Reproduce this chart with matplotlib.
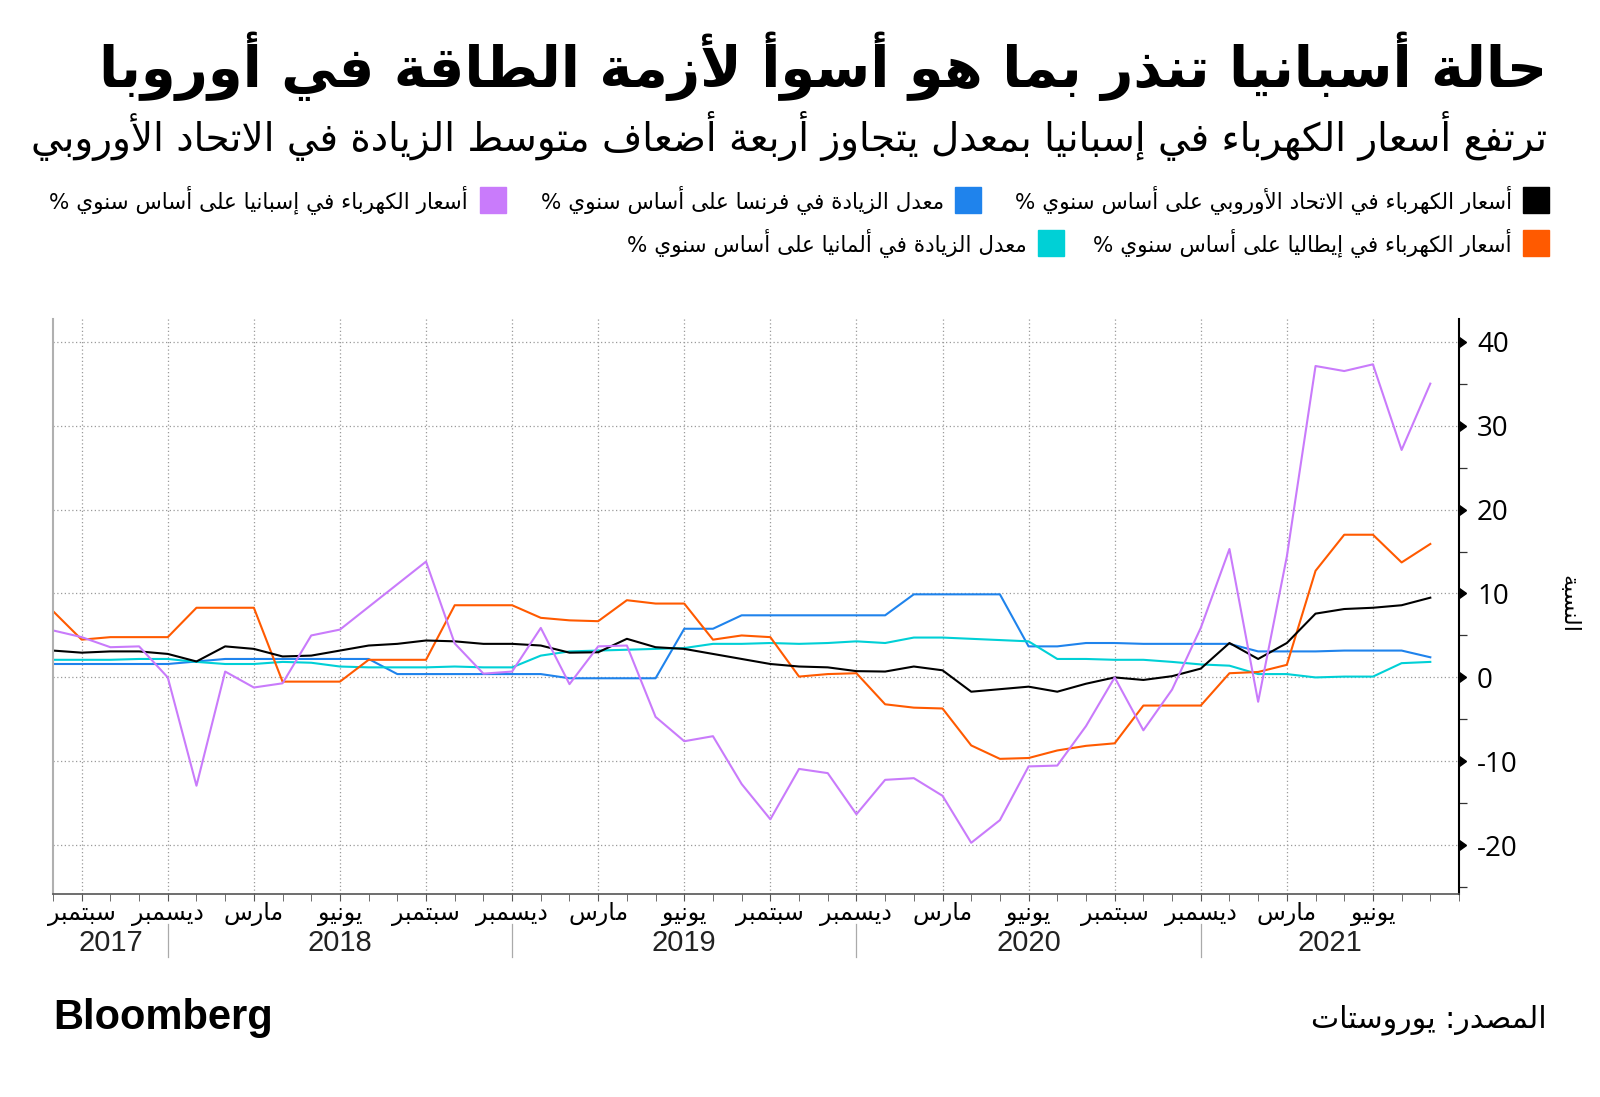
import numpy as np
import matplotlib
matplotlib.use("Agg")
import matplotlib.pyplot as plt
from matplotlib.patches import Rectangle
from matplotlib.lines import Line2D

##########################################################################
######  Data (monthly Aug 2017 -> Aug 2021)  #####
##########################################################################

eu = [3.2, 2.95, 3.1, 3.1, 2.8, 1.9, 3.7, 3.4, 2.5, 2.6, 3.2, 3.8, 4.0, 4.4, 4.3, 4.0, 4.0,
      3.8, 2.95, 3.0, 4.6, 3.6, 3.4, 2.8, 2.2, 1.6, 1.3, 1.2, 0.75, 0.7, 1.3, 0.85,
      -1.7, -1.4, -1.1, -1.7, -0.75, 0.0, -0.3, 0.15, 1.05, 4.1, 2.2, 4.1, 7.6, 8.15, 8.3, 8.6, 9.5]
italy = [7.9, 4.5, 4.8, 4.8, 4.8, 8.3, 8.3, 8.3, -0.5, -0.5, -0.5, 2.1, 2.1, 2.1, 8.6, 8.6, 8.6,
         7.1, 6.8, 6.7, 9.2, 8.8, 8.8, 4.5, 5.0, 4.8, 0.1, 0.4, 0.5, -3.2, -3.6, -3.7,
         -8.1, -9.7, -9.6, -8.7, -8.15, -7.85, -3.35, -3.35, -3.35, 0.5, 0.65, 1.5, 12.7, 17.0, 17.0, 13.7, 15.9]
spain = [5.6, 4.8, 3.6, 3.7, 0.0, -12.9, 0.7, -1.2, -0.7, 5.0, 5.7, 8.4, 11.1, 13.8, 4.05, 0.45, 0.7,
         5.9, -0.8, 3.7, 3.8, -4.7, -7.6, -7.0, -12.7, -16.9, -10.9, -11.4, -16.3, -12.2, -12.0, -14.1,
         -19.7, -17.0, -10.6, -10.5, -5.8, 0.0, -6.3, -1.45, 5.9, 15.3, -2.9, 14.4, 37.1, 36.5, 37.3, 27.1, 35.0]
germany = [2.1, 2.1, 2.1, 2.2, 2.2, 1.85, 1.6, 1.6, 1.85, 1.75, 1.3, 1.2, 1.2, 1.2, 1.3, 1.2, 1.2,
           2.6, 3.1, 3.2, 3.3, 3.4, 3.5, 4.0, 4.0, 4.1, 4.0, 4.1, 4.3, 4.1, 4.75, 4.75,
           4.6, 4.45, 4.3, 2.2, 2.2, 2.1, 2.1, 1.85, 1.55, 1.4, 0.4, 0.4, 0.0, 0.1, 0.1, 1.7, 1.85]
france = [1.6, 1.6, 1.6, 1.6, 1.6, 1.9, 2.2, 2.2, 2.2, 2.2, 2.2, 2.2, 0.4, 0.4, 0.4, 0.4, 0.4,
          0.4, -0.1, -0.1, -0.1, -0.1, 5.8, 5.8, 7.4, 7.4, 7.4, 7.4, 7.4, 7.4, 9.9, 9.9,
          9.9, 9.9, 3.7, 3.7, 4.1, 4.1, 4.0, 4.0, 4.0, 4.0, 3.1, 3.1, 3.1, 3.2, 3.2, 3.2, 2.4]

month_names = ["سبتمبر", "ديسمبر", "مارس", "يونيو"]
years = ["2017", "2018", "2019", "2020", "2021"]
year_centers = [2, 10, 22, 34, 44.5]      # month index (0 = Aug 2017)
year_breaks = [4, 16, 28, 40]

title = "حالة أسبانيا تنذر بما هو أسوأ لأزمة الطاقة في أوروبا"
subtitle = "ترتفع أسعار الكهرباء في إسبانيا بمعدل يتجاوز أربعة أضعاف متوسط الزيادة في الاتحاد الأوروبي"
labels = {
    "eu": "أسعار الكهرباء في الاتحاد الأوروبي على أساس سنوي %",
    "france": "معدل الزيادة في فرنسا على أساس سنوي %",
    "spain": "أسعار الكهرباء في إسبانيا على أساس سنوي %",
    "italy": "أسعار الكهرباء في إيطاليا على أساس سنوي %",
    "germany": "معدل الزيادة في ألمانيا على أساس سنوي %",
}
ylabel = "النسبة"
source = "المصدر: يوروستات"

colors = {"eu": "#000000", "france": "#1f83ec", "spain": "#c97bfb",
          "italy": "#ff5a00", "germany": "#00d0d6"}

##########################################################################
######  Small Arabic shaper (no bidi lib available)  #####
##########################################################################

RIGHT = {"آ": 0xFE81, "أ": 0xFE83, "ؤ": 0xFE85, "إ": 0xFE87, "ا": 0xFE8D, "ة": 0xFE93,
         "د": 0xFEA9, "ذ": 0xFEAB, "ر": 0xFEAD, "ز": 0xFEAF, "و": 0xFEED, "ى": 0xFEEF,
         "لآ": 0xFEF5, "لأ": 0xFEF7, "لإ": 0xFEF9, "لا": 0xFEFB}
DUAL = {"ئ": 0xFE89, "ب": 0xFE8F, "ت": 0xFE95, "ث": 0xFE99, "ج": 0xFE9D, "ح": 0xFEA1,
        "خ": 0xFEA5, "س": 0xFEB1, "ش": 0xFEB5, "ص": 0xFEB9, "ض": 0xFEBD, "ط": 0xFEC1,
        "ظ": 0xFEC5, "ع": 0xFEC9, "غ": 0xFECD, "ف": 0xFED1, "ق": 0xFED5, "ك": 0xFED9,
        "ل": 0xFEDD, "م": 0xFEE1, "ن": 0xFEE5, "ه": 0xFEE9, "ي": 0xFEF1}


def ar(s):
    toks = []
    i = 0
    while i < len(s):
        if s[i] == "ل" and i + 1 < len(s) and s[i:i + 2] in RIGHT:
            toks.append(s[i:i + 2])
            i += 2
        else:
            toks.append(s[i])
            i += 1
    out = []
    for k, t in enumerate(toks):
        prev = k > 0 and toks[k - 1] in DUAL
        nxt = k + 1 < len(toks) and (toks[k + 1] in DUAL or toks[k + 1] in RIGHT)
        if t in DUAL:
            idx = {(False, False): 0, (True, False): 1, (False, True): 2, (True, True): 3}[(prev, nxt)]
            out.append(chr(DUAL[t] + idx))
        elif t in RIGHT:
            out.append(chr(RIGHT[t] + (1 if prev else 0)))
        elif t == "ء":
            out.append("\uFE80")
        else:
            out.append(t)
    return "".join(out)[::-1]


##########################################################################

W, H = 1600, 1097
fig = plt.figure(figsize=(W / 100, H / 100), dpi=100)
plt.rcParams['font.family'] = ['DejaVu Sans']


def px(x, y):
    return x / W, 1 - y / H


def fit(t, width):
    r = fig.canvas.get_renderer()
    for _ in range(2):
        w = t.get_window_extent(r).width
        t.set_fontsize(t.get_fontsize() * width / w)


x = np.arange(len(eu))

ax = fig.add_axes([53 / W, 1 - 894 / H, (1459 - 53) / W, (894 - 319) / H])
ax.plot(x, france, color=colors["france"], lw=1.5)
ax.plot(x, germany, color=colors["germany"], lw=1.5)
ax.plot(x, italy, color=colors["italy"], lw=1.5)
ax.plot(x, eu, color=colors["eu"], lw=1.5)
ax.plot(x, spain, color=colors["spain"], lw=1.5)

ax.set_xlim(0, 49)
ax.set_ylim(-25.8, 42.7)

# grid
qt = np.arange(1, 49, 3)
ax.set_xticks(qt)
ax.set_xticks(np.arange(0, 50), minor=True)
ax.set_xticklabels([ar(month_names[i % 4]) for i in range(len(qt))], fontsize=17)
ax.tick_params(axis="x", which="both", length=5, color="#555555", pad=1)
ax.grid(True, which="major", color="#9a9a9a", lw=0.9, linestyle=(0, (1, 2)))

ax.yaxis.tick_right()
yt = np.arange(-20, 41, 10)
ax.set_yticks(yt)
ax.set_yticks(np.arange(-25, 41, 5), minor=True)
ax.set_yticklabels([str(v) for v in yt], fontsize=20, family=['Open Sans', 'DejaVu Sans'])
ax.tick_params(axis="y", which="major", length=0, pad=13)
ax.tick_params(axis="y", which="minor", length=6, color="#333333", width=0.9)
ax.plot(np.ones(len(yt)), yt, marker=9, color="black", ms=7, lw=0,
        transform=ax.get_yaxis_transform(), clip_on=False)

ax.spines["top"].set_visible(False)
ax.spines["left"].set_color("#b0b0b0")
ax.spines["left"].set_linewidth(1.5)
ax.spines["right"].set_color("black")
ax.spines["right"].set_linewidth(1.5)
ax.spines["bottom"].set_color("#555555")
ax.spines["bottom"].set_linewidth(1.2)

# years under the month labels
for yl, c in zip(years, year_centers):
    ax.text(c, -0.085, yl, transform=ax.get_xaxis_transform(), ha="center", va="center",
            fontsize=21, family=['Liberation Sans Narrow', 'Liberation Sans', 'DejaVu Sans'],
            color="#222222")
for b in year_breaks:
    ax.add_line(Line2D([b, b], [-0.052, -0.11], transform=ax.get_xaxis_transform(),
                       color="#aaaaaa", lw=0.9, clip_on=False))

fig.text(*px(1568, 604), ar(ylabel), rotation=-90, ha="center", va="center", fontsize=16)

# title and subtitle
t = fig.text(*px(1547, 66), ar(title), ha="right", va="center", fontsize=40, weight="bold")
fit(t, 1448)
t = fig.text(*px(1547, 136), ar(subtitle), ha="right", va="center", fontsize=24)
fit(t, 1513)

# legend
legend = [("eu", 1523, 200, 1512), ("france", 955, 200, 944), ("spain", 480, 200, 468),
          ("italy", 1523, 243, 1512), ("germany", 1038, 243, 1027)]
for key, sx, sy, tx in legend:
    fig.patches.append(Rectangle(px(sx, sy + 13), 26 / W, 26 / H, transform=fig.transFigure,
                                 color=colors[key]))
    fig.text(*px(tx, sy), ar(labels[key]), ha="right", va="center", fontsize=15.5)

# footer
t = fig.text(*px(53, 1018), "Bloomberg", ha="left", va="center", fontsize=30, weight="bold",
             family=['Liberation Sans', 'DejaVu Sans'])
fit(t, 220)
t = fig.text(*px(1547, 1020), ar(source), ha="right", va="center", fontsize=20)
fit(t, 236)

fig.savefig("out.png", dpi=100)
